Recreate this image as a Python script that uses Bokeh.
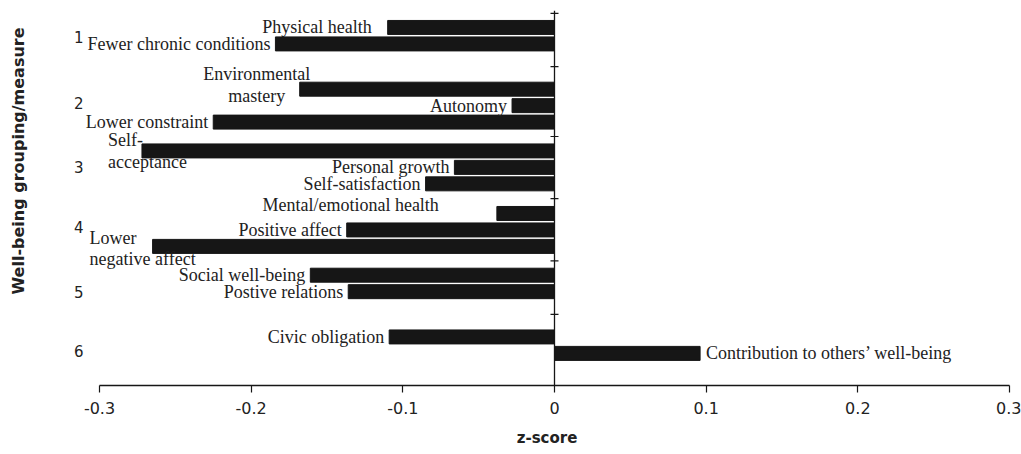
import math
from bokeh.plotting import figure
from bokeh.models import Range1d, FixedTicker, Span, Title, CustomJSTickFormatter
from bokeh.core.properties import value
from bokeh.embed import file_html
from bokeh.resources import INLINE

# ---------------- data ----------------
group_labels = ["1", "2", "3", "4", "5", "6"]
measures = [
    "Physical health", "Fewer chronic conditions",
    "Environmental\nmastery", "Autonomy", "Lower constraint",
    "Self-\nacceptance", "Personal growth", "Self-satisfaction",
    "Mental/emotional health", "Positive affect", "Lower\nnegative affect",
    "Social well-being", "Postive relations",
    "Civic obligation", "Contribution to others\u2019 well-being",
]
measure_group = [1, 1, 2, 2, 2, 3, 3, 3, 4, 4, 4, 5, 5, 6, 6]
z_scores = [-0.110, -0.184, -0.168, -0.028, -0.225, -0.272, -0.066, -0.085,
            -0.038, -0.137, -0.265, -0.161, -0.136, -0.109, 0.096]
x_ticks = [-0.3, -0.2, -0.1, 0, 0.1, 0.2, 0.3]
x_tick_labels = ["-0.3", "-0.2", "-0.1", "0", "0.1", "0.2", "0.3"]

# ---------------- layout ----------------
group_gaps = [2.75, 1.75, 1.8, 1.75, 2.75]   # spacing between groups (rows)
group_label_shift = [0.06, -0.18, 0.0, -0.18, 0.55, 0.36]  # rows
rows = []
r = 0.0
for i, g in enumerate(measure_group):
    if i > 0:
        r += group_gaps[measure_group[i - 1] - 1] if g != measure_group[i - 1] else 1.0
    rows.append(r)

group_ticks = []
for gi in range(1, len(group_labels) + 1):
    rr = [rows[i] for i, g in enumerate(measure_group) if g == gi]
    group_ticks.append(sum(rr) / len(rr) + group_label_shift[gi - 1])

boundaries = [rows[0] - 0.85]
for i in range(1, len(rows)):
    if measure_group[i] != measure_group[i - 1]:
        boundaries.append((rows[i] + rows[i - 1]) / 2)

# label placement: (align, dx px, dy px, line height)
label_layout = {
    "Physical health": ("right", -16, 0, 1.2),
    "Environmental\nmastery": ("center", -43, -4, 1.12),
    "Self-\nacceptance": ("left", -34, 0, 1.12),
    "Mental/emotional health": ("right", -58, -8, 1.2),
    "Lower\nnegative affect": ("left", -63, 2, 1.03),
    "Contribution to others\u2019 well-being": ("left", 6, 0, 1.2),
}
default_layout = ("right", -5, 0, 1.2)

INK = "#161616"
TXT = "#222222"
SERIF = "Liberation Serif"
SANS = "DejaVu Sans"

p = figure(width=1021, height=454, output_backend="svg", toolbar_location=None,
           x_range=Range1d(-0.30989, 0.3), y_range=Range1d(21.75, -1.03),
           min_border_left=84, min_border_right=12, min_border_top=10,
           min_border_bottom=69)
p.outline_line_color = None
p.grid.visible = False
p.background_fill_color = "white"
p.border_fill_color = "white"

p.hbar(y=rows, left=0, right=z_scores, height=0.85, fill_color=INK, line_color=INK)

p.add_layout(Span(location=0, dimension="height", line_color=INK, line_width=1.3))
p.scatter(x=[0] * len(boundaries), y=boundaries, marker="dash", size=8,
          line_color=INK, line_width=1.2)

for name, v, yr in zip(measures, z_scores, rows):
    align, dx, dy, lh = label_layout.get(name, default_layout)
    p.text(x=[v], y=[yr], text=[name], x_offset=dx, y_offset=dy,
           text_align=align, text_baseline="middle", text_line_height=lh,
           text_font=value(SERIF), text_font_size="18px", text_color=TXT)

# x axis
xa = p.xaxis[0]
xa.bounds = (x_ticks[0], x_ticks[-1])
xa.ticker = FixedTicker(ticks=x_ticks)
xa.formatter = CustomJSTickFormatter(args=dict(labels=x_tick_labels),
                                     code="return labels[index];")
xa.axis_line_color = INK
xa.axis_line_width = 1.3
xa.major_tick_line_color = INK
xa.major_tick_line_width = 1.2
xa.major_tick_out = 7
xa.major_tick_in = 0
xa.minor_tick_line_color = None
xa.major_label_text_font = SANS
xa.major_label_text_font_size = "16px"
xa.major_label_text_color = TXT
xa.major_label_standoff = 9
xa.axis_label = "z-score"
xa.axis_label_text_font = SANS
xa.axis_label_text_font_style = "bold"
xa.axis_label_text_font_size = "15px"
xa.axis_label_text_color = TXT
xa.axis_label_standoff = 12

# y axis: group numbers
ya = p.yaxis[0]
ya.ticker = FixedTicker(ticks=group_ticks)
ya.formatter = CustomJSTickFormatter(args=dict(labels=group_labels),
                                     code="return labels[index];")
ya.axis_line_color = None
ya.major_tick_line_color = None
ya.minor_tick_line_color = None
ya.major_label_orientation = "horizontal"
ya.major_label_text_font = SANS
ya.major_label_text_font_size = "15px"
ya.major_label_text_color = TXT
ya.major_label_standoff = -5

# blank spacer panel between the group numbers and the y title
p.add_layout(Title(text=" ", standoff=17, text_font=SANS,
                   text_font_size="15px"), "left")
p.add_layout(Title(text="Well-being grouping/measure", align="left", offset=91,
                   standoff=12, text_font=SANS, text_font_style="bold",
                   text_font_size="16px", text_color=TXT), "left")

open("out.html", "w").write(file_html(p, INLINE))
